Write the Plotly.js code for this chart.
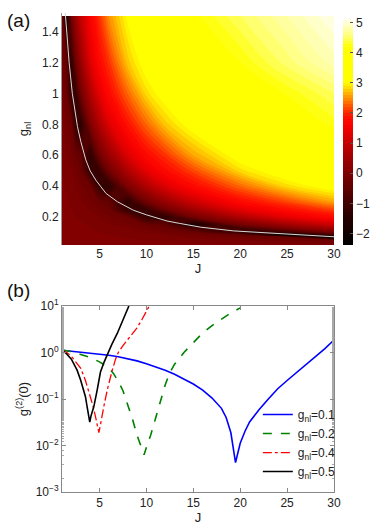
<!DOCTYPE html>
<html>
<head>
<meta charset="utf-8">
<script src="https://cdn.plot.ly/plotly-3.0.1.min.js"></script>
<style>
  body { margin: 0; background: #fff; }
  #myDiv { width: 382px; height: 528px; }
</style>
</head>
<body>
<div id="myDiv"></div>
<script>
// (a) log10 g2(0) over (J, g_nl)
var jGrid = [1, 1.5, 2, 2.5, 3, 4, 5, 6, 8, 10, 12, 15, 20, 25, 30];
var gGrid = [0.01, 0.05, 0.07, 0.085, 0.1, 0.13, 0.15, 0.2, 0.25, 0.3, 0.4, 0.5, 0.6, 0.8, 1.0, 1.2, 1.5];
var logG2Map = [
  [0.05, 0.05, 0.05, 0.05, 0.05, 0.05, 0.05, 0.05, 0.05, 0.05, 0.05, 0.05, 0.05, 0.05, 0.05],
  [0.05, 0.05, 0.05, 0.05, 0.05, 0.05, 0.05, 0.05, 0.02, 0.0, -0.02, -0.05, -0.1, -0.2, -0.3],
  [0.05, 0.05, 0.05, 0.05, 0.05, 0.05, 0.04, 0.02, -0.01, -0.04, -0.07, -0.12, -0.26, -0.4, -2.35],
  [0.05, 0.05, 0.05, 0.05, 0.05, 0.05, 0.02, 0.0, -0.04, -0.07, -0.1, -0.2, -0.38, -2.3, -1.0],
  [0.05, 0.05, 0.05, 0.05, 0.05, 0.02, 0.0, -0.02, -0.06, -0.1, -0.18, -0.3, -1.2, -1.1, -0.2],
  [0.05, 0.05, 0.05, 0.05, 0.03, 0.0, -0.03, -0.05, -0.1, -0.22, -0.32, -0.9, -0.9, 0.05, 0.62],
  [0.05, 0.05, 0.05, 0.04, 0.02, -0.02, -0.05, -0.08, -0.18, -0.3, -0.45, -1.8, -0.2, 0.5, 1.05],
  [0.05, 0.05, 0.02, 0.0, -0.02, -0.06, -0.1, -0.18, -0.3, -1.2, -1.35, -0.2, 0.7, 1.35, 1.75],
  [0.05, 0.04, 0.0, -0.03, -0.05, -0.1, -0.2, -0.3, -1.2, -1.1, -0.2, 0.5, 1.35, 1.8, 2.15],
  [0.05, 0.02, -0.02, -0.05, -0.08, -0.18, -0.3, -0.45, -1.35, -0.2, 0.38, 1.05, 1.75, 2.15, 2.6],
  [0.02, -0.02, -0.06, -0.1, -0.18, -0.3, -1.2, -1.35, 0.0, 0.7, 1.25, 1.75, 2.3, 2.85, 3.15],
  [0.0, -0.05, -0.1, -0.2, -0.3, -1.2, -1.1, -0.2, 0.7, 1.35, 1.75, 2.15, 2.85, 3.22, 3.5],
  [-0.02, -0.08, -0.18, -0.3, -0.45, -1.35, -0.2, 0.38, 1.25, 1.75, 2.05, 2.6, 3.15, 3.5, 3.8],
  [-0.06, -0.18, -0.3, -1.2, -1.35, 0.0, 0.7, 1.25, 1.85, 2.3, 2.75, 3.15, 3.6, 3.95, 4.25],
  [-0.1, -0.3, -1.2, -1.1, -0.2, 0.7, 1.35, 1.75, 2.3, 2.85, 3.15, 3.5, 3.95, 4.22, 4.5],
  [-0.18, -0.45, -1.35, -0.2, 0.38, 1.25, 1.75, 2.05, 2.75, 3.15, 3.45, 3.8, 4.2, 4.55, 4.85],
  [-0.3, -1.8, -0.2, 0.5, 0.95, 1.6, 2.05, 2.5, 3.05, 3.5, 3.85, 4.15, 4.5, 4.8, 5.1]
];

// white curve along the minimum in (a)
var jMinLine = [1.35, 1.5, 1.76, 2.1, 2.65, 3.0, 3.54, 4.0, 4.6, 5.1, 5.7, 6.9, 7.5, 8.6, 10, 12.2, 13.5, 15.8, 19.3, 22.9, 26.4, 30];
var gMinLine = [1.52, 1.38, 1.2, 1.0, 0.785, 0.69, 0.57, 0.5, 0.44, 0.4, 0.353, 0.3, 0.28, 0.245, 0.215, 0.175, 0.16, 0.135, 0.111, 0.098, 0.086, 0.073];

// (b) g2(0) against J
var jG01 = [1, 2, 3, 4, 5, 6, 7, 8, 9, 10, 11, 12, 13, 14, 15, 16, 17, 18, 18.5, 19, 19.5, 20, 20.5, 21, 22, 23, 24, 25, 26, 27, 28, 29, 30];
var g2G01 = [1.12, 1.07, 1.02, 0.98, 0.93, 0.87, 0.81, 0.74, 0.66, 0.575, 0.49, 0.417, 0.34, 0.27, 0.21, 0.155, 0.105, 0.063, 0.040, 0.019, 0.0043, 0.0112, 0.020, 0.032, 0.059, 0.10, 0.166, 0.25, 0.37, 0.54, 0.79, 1.2, 1.86];

var jG02 = [1, 2, 3, 4, 5, 6, 6.5, 7, 7.5, 8, 8.5, 9, 9.4, 9.75, 10.1, 10.45, 11, 11.5, 12, 12.5, 13, 14, 15, 16, 17, 18, 19, 20];
var g2G02 = [1.13, 1.05, 0.91, 0.78, 0.63, 0.47, 0.35, 0.24, 0.151, 0.079, 0.038, 0.0166, 0.0095, 0.0063, 0.0105, 0.0166, 0.040, 0.089, 0.20, 0.37, 0.56, 1.0, 1.66, 2.63, 3.8, 5.25, 7.1, 9.1];

var jG04 = [1, 1.5, 2, 2.5, 3, 3.5, 4, 4.3, 4.57, 4.75, 4.93, 5.1, 5.29, 5.5, 5.82, 6.1, 6.36, 6.7, 7, 7.5, 8, 8.67, 9, 9.5, 10, 10.3];
var g2G04 = [1.13, 1.0, 0.83, 0.63, 0.457, 0.25, 0.117, 0.071, 0.042, 0.028, 0.019, 0.028, 0.042, 0.076, 0.155, 0.27, 0.417, 0.71, 1.0, 1.41, 1.9, 2.7, 3.4, 5.0, 7.4, 10];

var jG05 = [1, 1.5, 2, 2.3, 2.61, 3, 3.32, 3.5, 3.68, 3.82, 3.96, 4.1, 4.39, 4.75, 5.1, 5.5, 5.82, 6.3, 6.89, 7.5, 8.13];
var g2G05 = [1.13, 0.93, 0.72, 0.56, 0.417, 0.25, 0.155, 0.112, 0.068, 0.047, 0.032, 0.044, 0.068, 0.155, 0.38, 0.63, 0.89, 1.48, 2.57, 5.0, 10];

var hotScale = [
  [0, '#000000'], [0.117, '#260000'], [0.183, '#420000'], [0.25, '#600000'],
  [0.316, '#800000'], [0.382, '#a00000'], [0.449, '#c80000'], [0.515, '#f50000'],
  [0.555, '#ff0a00'], [0.582, '#ff2800'], [0.622, '#ff6800'], [0.661, '#ffa800'],
  [0.695, '#ffe000'], [0.715, '#ffff00'], [0.873, '#ffff00'], [0.927, '#ffff80'],
  [1, '#fffff4']
];

var font = 'Liberation Sans, Arial, sans-serif';

var data = [{
  type: 'contour',
  x: jGrid,
  y: gGrid,
  z: logG2Map,
  xaxis: 'x',
  yaxis: 'y',
  colorscale: hotScale,
  zauto: false,
  zmin: -2.38,
  zmax: 5.15,
  autocontour: false,
  contours: {start: -2.3, end: 5.1, size: 0.1, coloring: 'fill', showlines: false},
  line: {width: 0},
  showlegend: false,
  hoverinfo: 'skip',
  colorbar: {
    x: 1.033, xanchor: 'left', xpad: 0,
    y: 0.7526, yanchor: 'middle', ypad: 0,
    len: 0.474, lenmode: 'fraction',
    thickness: 10,
    outlinewidth: 0,
    tickvals: [-2, -1, 0, 1, 2, 3, 4, 5],
    ticks: 'inside', ticklen: 3, tickcolor: '#555',
    tickfont: {family: font, size: 12, color: '#222'}
  }
}, {
  type: 'scatter', mode: 'lines',
  x: jMinLine, y: gMinLine,
  xaxis: 'x', yaxis: 'y',
  line: {color: '#d8d8d8', width: 1},
  showlegend: false, hoverinfo: 'skip'
}, {
  type: 'scatter', mode: 'lines',
  x: jG01, y: g2G01, xaxis: 'x2', yaxis: 'y2',
  name: 'g<sub>nl</sub>=0.1',
  line: {color: '#0000ff', width: 1.6}
}, {
  type: 'scatter', mode: 'lines',
  x: jG02, y: g2G02, xaxis: 'x2', yaxis: 'y2',
  name: 'g<sub>nl</sub>=0.2',
  line: {color: '#008000', width: 1.6, dash: 'dash'}
}, {
  type: 'scatter', mode: 'lines',
  x: jG04, y: g2G04, xaxis: 'x2', yaxis: 'y2',
  name: 'g<sub>nl</sub>=0.4',
  line: {color: '#ff0000', width: 1.3, dash: 'dashdot'}
}, {
  type: 'scatter', mode: 'lines',
  x: jG05, y: g2G05, xaxis: 'x2', yaxis: 'y2',
  name: 'g<sub>nl</sub>=0.5',
  line: {color: '#000000', width: 1.6}
}];

var tickFont = {family: font, size: 12, color: '#222'};

var layout = {
  width: 382,
  height: 528,
  margin: {l: 62, r: 48, t: 13, b: 36, autoexpand: false},
  paper_bgcolor: '#ffffff',
  plot_bgcolor: '#ffffff',
  font: {family: font, size: 12, color: '#222'},
  showlegend: true,
  legend: {
    x: 0.72, y: 0.192, xanchor: 'left', yanchor: 'top',
    bgcolor: 'rgba(0,0,0,0)', borderwidth: 0,
    font: {family: font, size: 12, color: '#222'}
  },
  xaxis: {
    domain: [0, 1], anchor: 'y',
    range: [1, 30],
    tickvals: [5, 10, 15, 20, 25, 30],
    ticks: '', showgrid: false, zeroline: false,
    showline: false,
    tickfont: tickFont,
    title: {text: 'J', font: {family: font, size: 13}, standoff: 2}
  },
  yaxis: {
    domain: [0.5157, 1], anchor: 'x',
    range: [0.02, 1.52],
    tickvals: [0.2, 0.4, 0.6, 0.8, 1, 1.2, 1.4],
    ticktext: ['0.2', '0.4', '0.6', '0.8', '1', '1.2', '1.4'],
    ticks: '', showgrid: false, zeroline: false,
    showline: true, linecolor: '#999', linewidth: 1,
    tickfont: tickFont,
    title: {text: 'g<sub>nl</sub>', font: {family: font, size: 13}, standoff: 10}
  },
  xaxis2: {
    domain: [0, 1], anchor: 'y2',
    range: [1, 30],
    tickvals: [5, 10, 15, 20, 25, 30],
    ticks: 'inside', ticklen: 4, tickcolor: '#888',
    showline: true, linecolor: '#888', linewidth: 1, mirror: 'ticks',
    showgrid: false, zeroline: false,
    tickfont: tickFont,
    title: {text: 'J', font: {family: font, size: 13}, standoff: 2}
  },
  yaxis2: {
    domain: [0, 0.3883], anchor: 'x2',
    type: 'log',
    range: [-3, 1],
    tickvals: [0.001, 0.01, 0.1, 1, 10],
    ticktext: ['10<sup>−3</sup>', '10<sup>−2</sup>', '10<sup>−1</sup>', '10<sup>0</sup>', '10<sup>1</sup>'],
    ticks: 'inside', ticklen: 4, tickcolor: '#888',
    minor: {ticks: 'inside', ticklen: 2, tickcolor: '#aaa'},
    showline: true, linecolor: '#888', linewidth: 1, mirror: 'ticks',
    showgrid: false, zeroline: false,
    tickfont: tickFont,
    title: {text: 'g<sup>(2)</sup>(0)', font: {family: font, size: 13}, standoff: 4}
  },
  annotations: [{
    text: '(a)', xref: 'paper', yref: 'paper', x: -0.21, y: 0.985,
    xanchor: 'left', yanchor: 'middle', showarrow: false,
    font: {family: font, size: 19, color: '#111'}
  }, {
    text: '(b)', xref: 'paper', yref: 'paper', x: -0.21, y: 0.4217,
    xanchor: 'left', yanchor: 'middle', showarrow: false,
    font: {family: font, size: 19, color: '#111'}
  }]
};

Plotly.newPlot('myDiv', data, layout, {displayModeBar: false, staticPlot: true});
</script>
</body>
</html>
